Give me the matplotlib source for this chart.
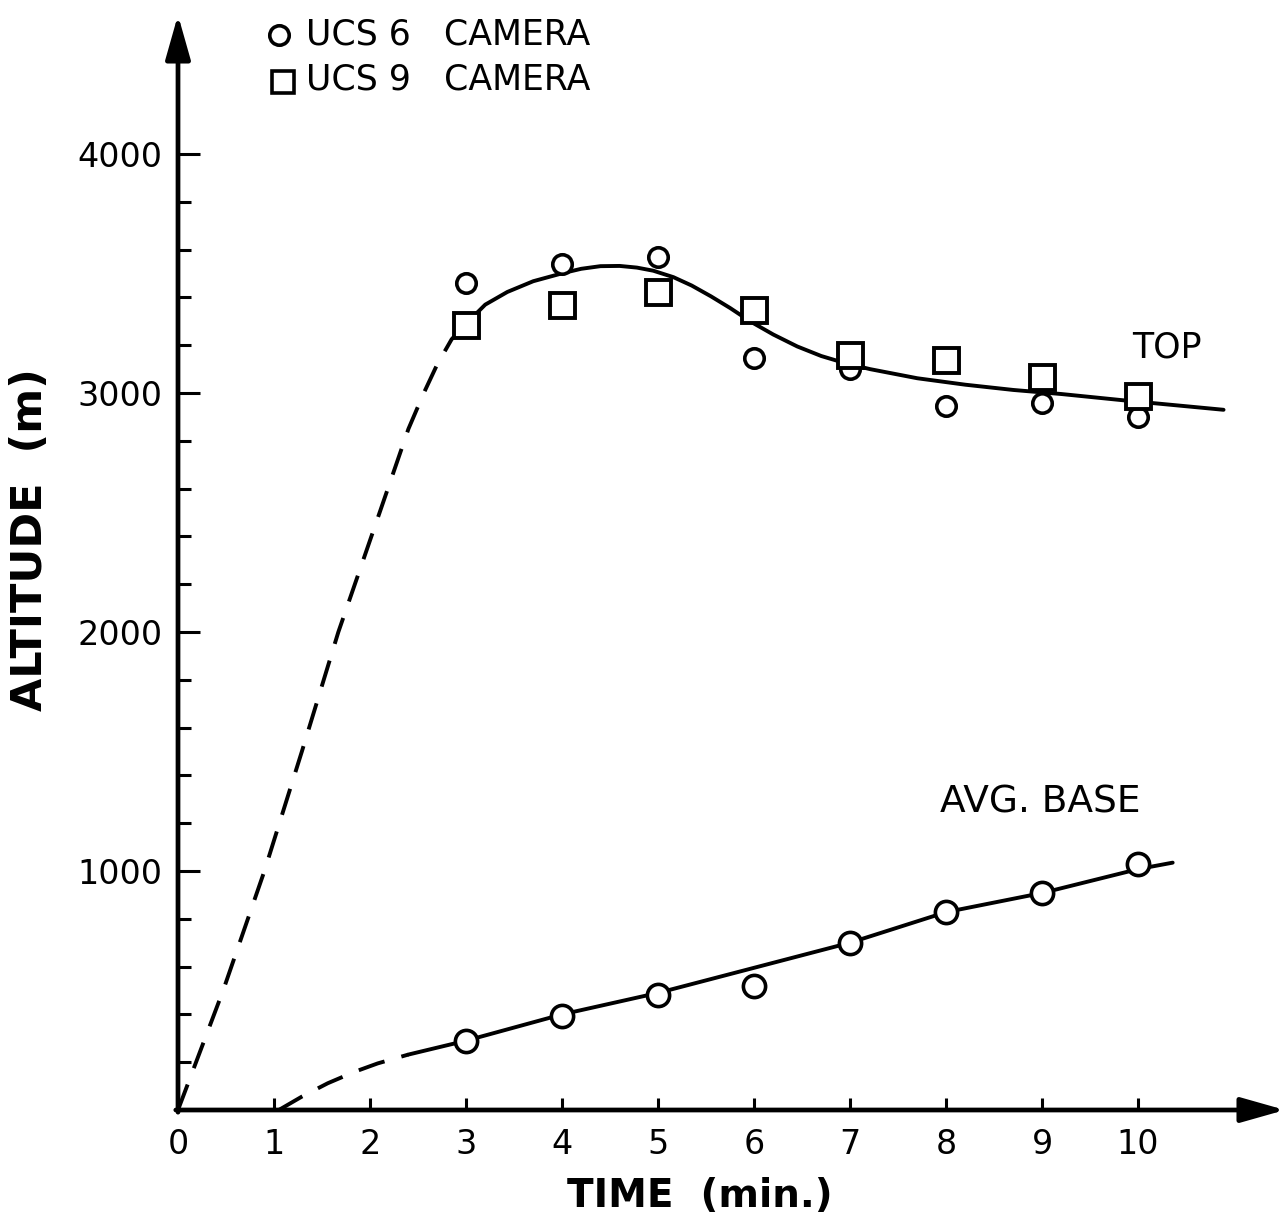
import matplotlib
matplotlib.use("Agg")
import matplotlib.pyplot as plt
from matplotlib.ticker import FixedLocator

# data
minutes = [3, 4, 5, 6, 7, 8, 9, 10]
top_ucs6 = [3460, 3540, 3569, 3146, 3100, 2946, 2958, 2900]
top_ucs9 = [3285, 3368, 3423, 3347, 3159, 3138, 3067, 2987]
base_ucs6 = [289, 393, 481, 519, 699, 828, 908, 1029]

# hand drawn fit curves (knots)
top_dash_x = [0, 0.47, 0.9, 1.29, 1.67, 2.1, 2.4, 2.56, 2.7, 2.85, 3.0]
top_dash_y = [0, 500, 1000, 1500, 2000, 2500, 2850, 3000, 3120, 3225, 3290]
top_fit_x = [3.0, 3.2, 3.43, 3.7, 4.01, 4.2, 4.4, 4.6, 4.78, 4.95, 5.16, 5.35,
             5.55, 5.75, 5.96, 6.2, 6.45, 6.7, 6.95, 7.21, 7.7, 8.2, 8.7, 9.2,
             9.84, 10.89]
top_fit_y = [3290, 3370, 3423, 3468, 3502, 3520, 3531, 3532, 3525, 3512, 3485,
             3450, 3405, 3356, 3300, 3245, 3195, 3155, 3125, 3100, 3062, 3035,
             3013, 2996, 2970, 2930]
base_dash_x = [1.05, 1.29, 1.56, 1.84, 2.08, 2.4]
base_dash_y = [0, 56, 112, 160, 195, 232]
base_fit_x = [2.4, 3, 4, 5, 6, 7, 8, 9, 10, 10.36]
base_fit_y = [232, 290, 400, 490, 595, 700, 828, 908, 1008, 1035]

x_ticks = list(range(0, 11))
y_major = [1000, 2000, 3000, 4000]
y_minor = [v for v in range(200, 4000, 200) if v % 1000 != 0]

fig = plt.figure(figsize=(12.88, 12.22), dpi=100)
ax = fig.add_axes([178 / 1288, 1 - 1110 / 1222, 1107 / 1288, 1095 / 1222])
ax.set_xlim(0, 11.53)
ax.set_ylim(0, 4582)
for s in ax.spines.values():
    s.set_visible(False)

# axes with arrow heads
arrow = dict(arrowstyle="-|>,head_length=0.6,head_width=0.17", lw=3.4,
             color="black", shrinkA=0, shrinkB=0, mutation_scale=45)
ax.annotate("", xy=(1, 0), xytext=(-0.002, 0), xycoords="axes fraction",
            arrowprops=arrow, annotation_clip=False)
ax.annotate("", xy=(0, 1), xytext=(0, -0.002), xycoords="axes fraction",
            arrowprops=arrow, annotation_clip=False)

ax.set_xticks(x_ticks)
ax.set_xticklabels([str(v) for v in x_ticks])
ax.set_yticks(y_major)
ax.set_yticklabels([str(v) for v in y_major])
ax.yaxis.set_minor_locator(FixedLocator(y_minor))
ax.tick_params(axis="x", direction="in", length=9, width=2.2, pad=13,
               labelsize=24, top=False)
ax.tick_params(axis="y", which="major", direction="in", length=16, width=2.2,
               pad=11, labelsize=24, right=False)
ax.tick_params(axis="y", which="minor", direction="in", length=9, width=2.2,
               right=False)

lw = 2.8
dash = (0, (7, 4.5))
ax.plot(top_dash_x, top_dash_y, color="black", lw=lw, linestyle=dash, zorder=2)
ax.plot(top_fit_x, top_fit_y, color="black", lw=lw, zorder=2,
        solid_capstyle="round", solid_joinstyle="round")
ax.plot(base_dash_x, base_dash_y, color="black", lw=lw, linestyle=dash, zorder=2)
ax.plot(base_fit_x, base_fit_y, color="black", lw=lw, zorder=2,
        solid_capstyle="round", solid_joinstyle="round")

ax.plot(minutes, top_ucs6, "o", ms=14, mfc="white", mec="black", mew=2.6,
        linestyle="none", zorder=3)
ax.plot(minutes, top_ucs9, "s", ms=18, mfc="white", mec="black", mew=2.8,
        linestyle="none", zorder=4)
ax.plot(minutes, base_ucs6, "o", ms=16, mfc="white", mec="black", mew=2.6,
        linestyle="none", zorder=3)

# key
ax.plot([1.05], [4498], "o", ms=14, mfc="white", mec="black", mew=2.6,
        clip_on=False)
ax.plot([1.09], [4303], "s", ms=16, mfc="white", mec="black", mew=2.6,
        clip_on=False)
ax.text(1.33, 4502, "UCS 6   CAMERA", fontsize=25, va="center", ha="left")
ax.text(1.33, 4314, "UCS 9   CAMERA", fontsize=25, va="center", ha="left")

ax.text(10.30, 3192, "TOP", fontsize=25, ha="center", va="center")
ax.text(8.98, 1285, "AVG. BASE", fontsize=27, ha="center", va="center")

fig.text(700 / 1288, 1 - 1196 / 1222, "TIME  (min.)", fontsize=28,
         fontweight="bold", ha="center", va="center")
fig.text(30 / 1288, 1 - 540 / 1222, "ALTITUDE  (m)", fontsize=31,
         fontweight="bold", ha="center", va="center", rotation=90)

fig.savefig("out.png", dpi=100)
